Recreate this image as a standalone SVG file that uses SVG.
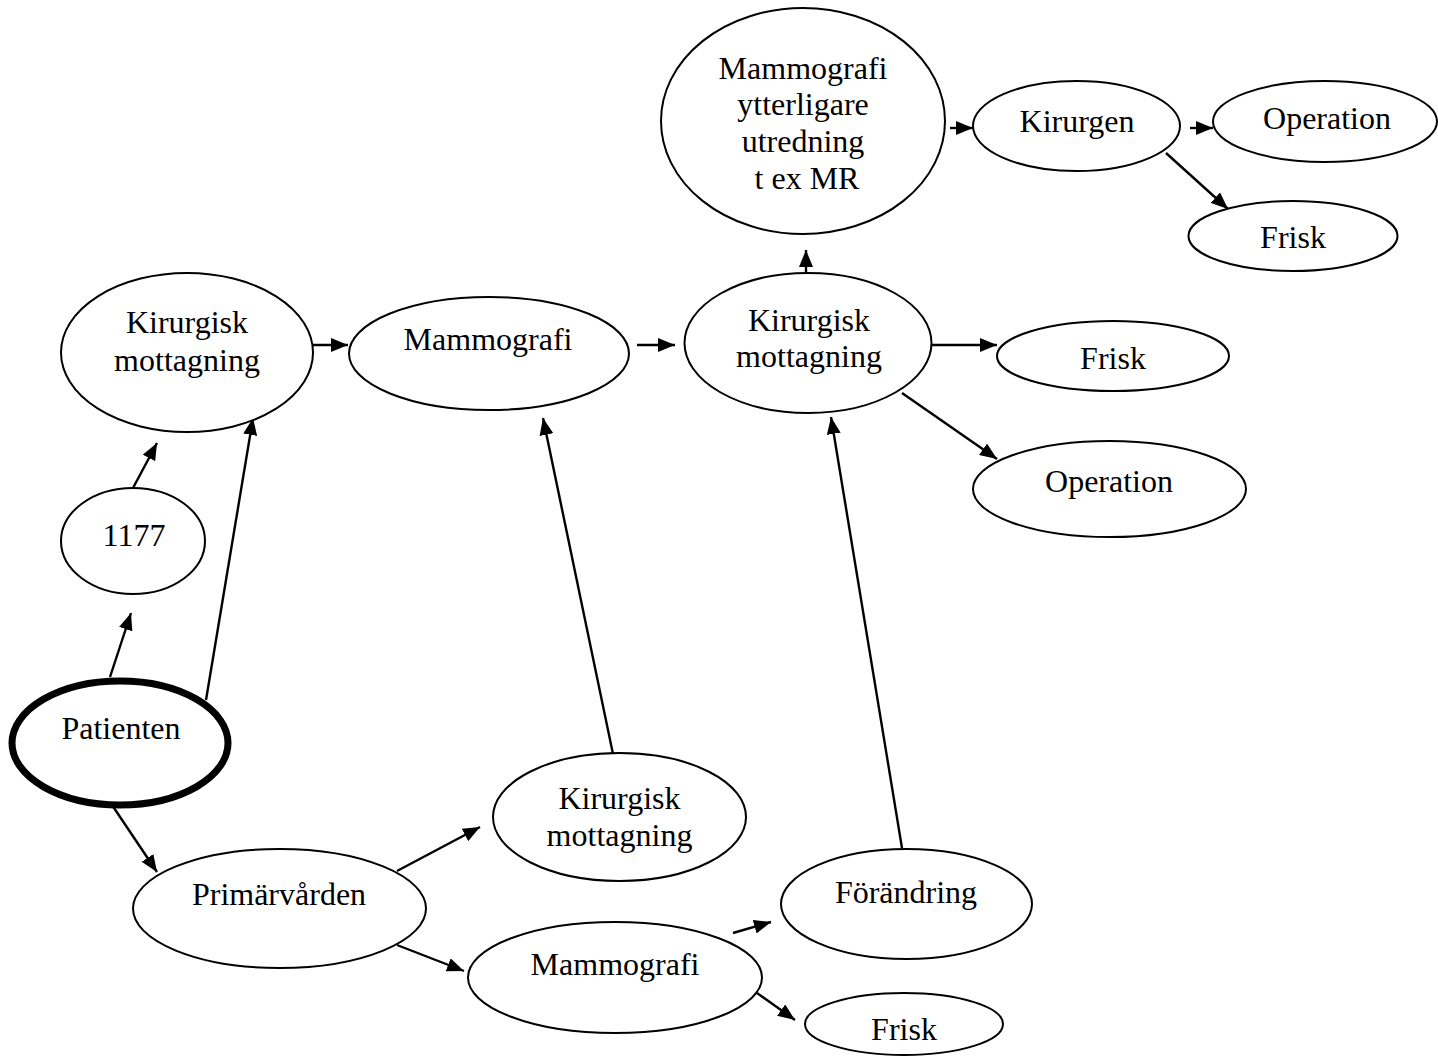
<svg xmlns="http://www.w3.org/2000/svg" width="1438" height="1057" viewBox="0 0 1438 1057">
<defs>
<style>
.n ellipse{fill:#fff;stroke:#000;stroke-width:2}
.n text{font-family:"Liberation Serif","Times New Roman",serif;font-size:32px;fill:#000;text-anchor:middle}
.c line{stroke:#000;stroke-width:2.4;marker-end:url(#ah)}
</style>
<marker id="ah" markerUnits="userSpaceOnUse" markerWidth="17" markerHeight="14" refX="17" refY="7" orient="auto">
<path d="M0,0 L17,7 L0,14 z" fill="#000"/>
</marker>
</defs>
<rect width="1438" height="1057" fill="#fff"/>
<g id="connectors" class="c">
<line x1="110" y1="677" x2="131" y2="613"/>
<line x1="133" y1="488" x2="157" y2="443"/>
<line x1="206" y1="700" x2="253" y2="418"/>
<line x1="301" y1="345" x2="348" y2="345"/>
<line x1="637" y1="345" x2="675" y2="345"/>
<line x1="806" y1="273" x2="806" y2="250"/>
<line x1="950" y1="128" x2="973" y2="128"/>
<line x1="1190" y1="128" x2="1213" y2="128"/>
<line x1="1166" y1="153" x2="1228" y2="209"/>
<line x1="926" y1="345" x2="997" y2="345"/>
<line x1="902" y1="393" x2="997" y2="459"/>
<line x1="613" y1="754" x2="543" y2="418"/>
<line x1="902" y1="848" x2="831" y2="417"/>
<line x1="110" y1="802" x2="157" y2="872"/>
<line x1="397" y1="871" x2="480" y2="827"/>
<line x1="397" y1="945" x2="464" y2="971"/>
<line x1="733" y1="933" x2="771" y2="922"/>
<line x1="757" y1="993" x2="795" y2="1020"/>
</g>
<g id="n-patienten" class="n">
<ellipse cx="120" cy="743" rx="108" ry="62" style="stroke-width:7"/>
<text x="121" y="739">Patienten</text>
</g>
<g id="n-1177" class="n">
<ellipse cx="133" cy="541" rx="72" ry="53"/>
<text x="134" y="546">1177</text>
</g>
<g id="n-kir1" class="n">
<ellipse cx="187" cy="352.5" rx="126" ry="79.5"/>
<text x="187" y="333">Kirurgisk</text>
<text x="187" y="371">mottagning</text>
</g>
<g id="n-mammo1" class="n">
<ellipse cx="489" cy="353.5" rx="140" ry="56.5"/>
<text x="488" y="350">Mammografi</text>
</g>
<g id="n-kir2" class="n">
<ellipse cx="808" cy="343" rx="123.5" ry="70"/>
<text x="809" y="331">Kirurgisk</text>
<text x="809" y="367">mottagning</text>
</g>
<g id="n-mammo-mr" class="n">
<ellipse cx="803" cy="121" rx="142" ry="113"/>
<text x="803" y="79">Mammografi</text>
<text x="803" y="115">ytterligare</text>
<text x="803" y="152">utredning</text>
<text x="807" y="189">t ex MR</text>
</g>
<g id="n-kirurgen" class="n">
<ellipse cx="1076.5" cy="126" rx="103.5" ry="45"/>
<text x="1077" y="132">Kirurgen</text>
</g>
<g id="n-op1" class="n">
<ellipse cx="1325" cy="121.5" rx="112" ry="40.5"/>
<text x="1327" y="129">Operation</text>
</g>
<g id="n-frisk1" class="n">
<ellipse cx="1293" cy="236" rx="104.5" ry="35"/>
<text x="1293" y="248">Frisk</text>
</g>
<g id="n-frisk2" class="n">
<ellipse cx="1113" cy="356" rx="116" ry="35"/>
<text x="1113" y="369">Frisk</text>
</g>
<g id="n-op2" class="n">
<ellipse cx="1109.5" cy="489" rx="136.5" ry="48"/>
<text x="1109" y="492">Operation</text>
</g>
<g id="n-primar" class="n">
<ellipse cx="279.5" cy="908.5" rx="146.5" ry="59.5"/>
<text x="279" y="905">Primärvården</text>
</g>
<g id="n-kir3" class="n">
<ellipse cx="619.5" cy="817" rx="126.5" ry="64"/>
<text x="619.5" y="809">Kirurgisk</text>
<text x="619.5" y="846">mottagning</text>
</g>
<g id="n-mammo2" class="n">
<ellipse cx="615" cy="977.5" rx="147" ry="55.5"/>
<text x="615" y="975">Mammografi</text>
</g>
<g id="n-forandring" class="n">
<ellipse cx="906.5" cy="904" rx="125.5" ry="55"/>
<text x="906" y="903">Förändring</text>
</g>
<g id="n-frisk3" class="n">
<ellipse cx="904" cy="1024" rx="99" ry="31"/>
<text x="904" y="1040">Frisk</text>
</g>
</svg>
